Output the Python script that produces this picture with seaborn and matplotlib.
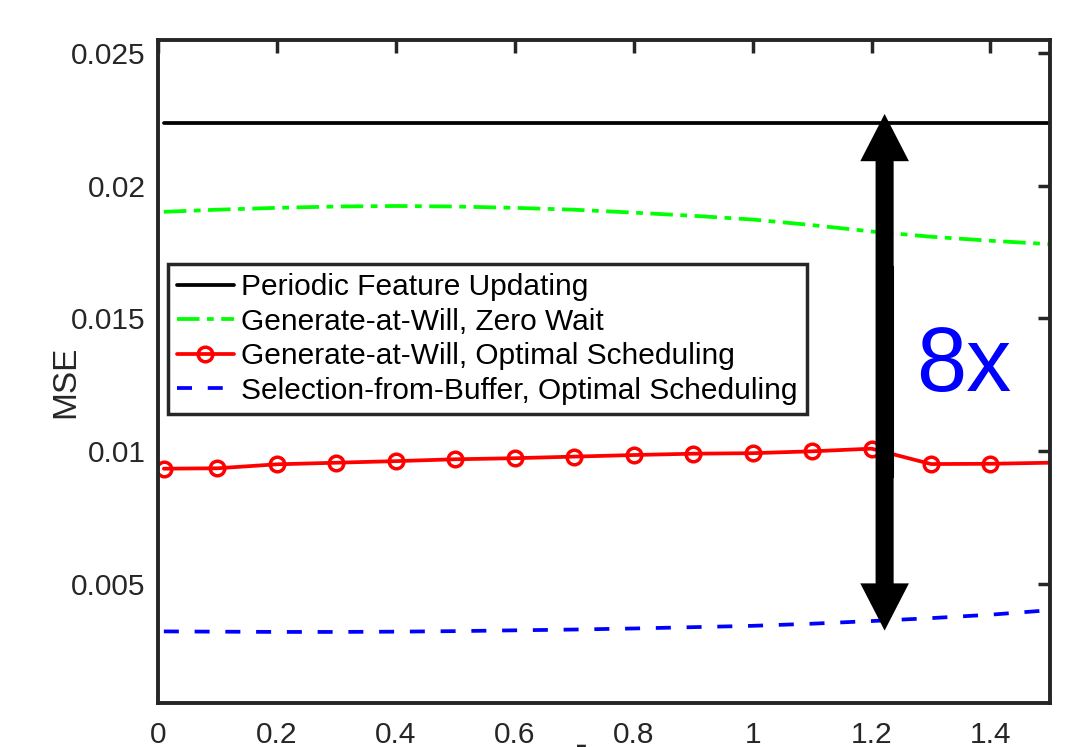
import numpy as np
import pandas as pd
import matplotlib
matplotlib.use('Agg')
import matplotlib.pyplot as plt
import seaborn as sns

# values
x_vals = [0.01, 0.1, 0.2, 0.3, 0.4, 0.5, 0.6, 0.7, 0.8, 0.9, 1.0, 1.1, 1.2, 1.3, 1.4, 1.5]
periodic = [0.02237] * 16
zero_wait = [0.01902, 0.01910, 0.01917, 0.01922, 0.01924, 0.01922, 0.01917, 0.01910,
             0.01899, 0.01887, 0.01873, 0.01852, 0.01828, 0.01808, 0.01793, 0.01780]
gaw_optimal = [0.009335, 0.00935, 0.00950, 0.00956, 0.00962, 0.00969, 0.00973, 0.00979,
               0.00985, 0.00990, 0.00992, 0.00999, 0.01009, 0.00951, 0.00952, 0.00956]
sfb_optimal = [0.00320, 0.00319, 0.00318, 0.00318, 0.00319, 0.00321, 0.00324, 0.00327,
               0.00331, 0.00336, 0.00341, 0.00349, 0.00359, 0.00370, 0.00383, 0.00400]

labels = ['Periodic Feature Updating',
          'Generate-at-Will, Zero Wait',
          'Generate-at-Will, Optimal Scheduling',
          'Selection-from-Buffer, Optimal Scheduling']

x_ticks = [0, 0.2, 0.4, 0.6, 0.8, 1.0, 1.2, 1.4]
x_ticklabels = ['0', '0.2', '0.4', '0.6', '0.8', '1', '1.2', '1.4']
y_ticks = [0.005, 0.01, 0.015, 0.02, 0.025]
y_ticklabels = ['0.005', '0.01', '0.015', '0.02', '0.025']

# annotation: double arrow + ratio text
arrow_x = 1.222
arrow_top = 0.02271
arrow_bottom = 0.00323
ratio_text = '8x'

sns.set_theme(style='white')
plt.rcParams['font.family'] = ['Liberation Sans', 'DejaVu Sans']

fig = plt.figure(figsize=(10.67, 7.47), dpi=100)
ax = fig.add_axes([0.148, 0.0589, 0.836, 0.8876])

lw = 2.7
sns.lineplot(x=x_vals, y=periodic, ax=ax, color='black', linewidth=lw, label=labels[0])
sns.lineplot(x=x_vals, y=zero_wait, ax=ax, color='#00ff00', linewidth=lw,
             linestyle=(0, (6, 2, 1.8, 2)), label=labels[1])
sns.lineplot(x=x_vals, y=gaw_optimal, ax=ax, color='red', linewidth=lw,
             marker='o', markersize=10.5, markerfacecolor='none', markeredgecolor='red',
             markeredgewidth=2.5, markevery=slice(0, 15), label=labels[2])
sns.lineplot(x=x_vals, y=sfb_optimal, ax=ax, color='blue', linewidth=lw,
             linestyle=(0, (4, 4.2)), label=labels[3])

ax.set_xlim(0, 1.5)
ax.set_ylim(0.0005, 0.0255)
ax.set_xticks(x_ticks)
ax.set_xticklabels(x_ticklabels)
ax.set_yticks(y_ticks)
ax.set_yticklabels(y_ticklabels)
ax.tick_params(direction='in', top=True, right=True, length=9, width=2.5,
               labelsize=21.5, colors='#262626')
ax.tick_params(axis='x', pad=13)
ax.tick_params(axis='y', pad=9)
for sp in ax.spines.values():
    sp.set_linewidth(2.8)
    sp.set_color('#262626')

ax.set_ylabel('MSE', fontsize=24, color='#262626', va='center')
ax.yaxis.set_label_coords(-0.103, 0.484)
ax.set_xlabel(r'$\bar{\tau}$', fontsize=22, color='#262626')
ax.xaxis.set_label_coords(0.473, -0.066)
ax.xaxis.label.set_va('top')

# double-headed arrow: two heads plus a solid shaft across the middle
style = 'simple,head_length=34,head_width=35,tail_width=13'
mid = (arrow_top + arrow_bottom) / 2
for tip in (arrow_top, arrow_bottom):
    ax.annotate('', xy=(arrow_x, tip), xytext=(arrow_x, mid),
                arrowprops=dict(arrowstyle=style, mutation_scale=1, color='black',
                                lw=0, shrinkA=0, shrinkB=0))
ax.plot([arrow_x, arrow_x], [mid - 0.004, mid + 0.004], color='black', lw=13,
        solid_capstyle='butt')
ax.text(1.355, 0.01316, ratio_text, color='blue', fontsize=65,
        ha='center', va='center')

leg = ax.legend(loc='upper left', bbox_to_anchor=(0.0112, 0.662), borderaxespad=0,
                fontsize=21.5, frameon=True, fancybox=False, framealpha=1,
                edgecolor='#262626', handlelength=1.9, handletextpad=0.25,
                labelspacing=0.22, borderpad=0.3)
leg.get_frame().set_linewidth(2.5)
for t in leg.get_texts():
    t.set_color('black')

fig.savefig('out.png', dpi=100)
